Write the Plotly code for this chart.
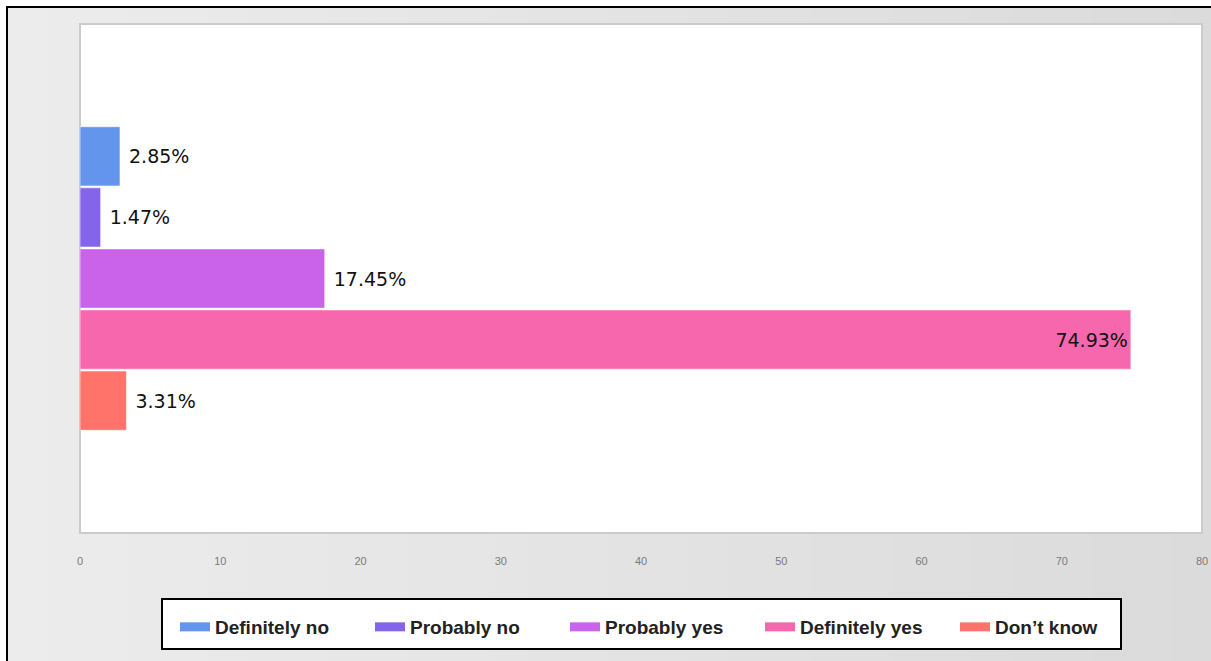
import plotly.graph_objects as go

# ---- data ----
categories = ["Definitely no", "Probably no", "Probably yes", "Definitely yes", "Don\u2019t know"]
values = [2.85, 1.47, 17.45, 74.93, 3.31]
labels = ["2.85%", "1.47%", "17.45%", "74.93%", "3.31%"]
label_pos = ["outside", "outside", "outside", "inside", "outside"]
colors = ["#6495ED", "#8464EA", "#CA63EA", "#F667AE", "#FF736B"]
x_ticks = [0, 10, 20, 30, 40, 50, 60, 70, 80]

W, H = 1211, 661
ML, MR, MT, MB = 80, 9, 24, 128
PW, PH = W - ML - MR, H - MT - MB


def px_x(px):  # page px -> paper
    return (px - ML) / PW


def px_y(py):
    return (H - MB - py) / PH


fig = go.Figure()

for cat, val, lab, pos, col in zip(categories, values, labels, label_pos, colors):
    txt = ("\u00a0" + lab) if pos == "outside" else lab
    fig.add_trace(go.Bar(
        x=[val], y=["Response"], orientation="h", name=cat,
        marker=dict(color=col, line=dict(color="rgba(255,255,255,0.55)", width=1)),
        text=[txt], textposition=pos, insidetextanchor="end",
        textfont=dict(family="DejaVu Sans", size=19, color="#111111"),
        cliponaxis=False, showlegend=False, hoverinfo="skip",
    ))

# legend entries drawn as wide swatches
for cat, col in zip(categories, colors):
    fig.add_trace(go.Scatter(
        x=[None], y=[None], mode="lines", name=cat,
        line=dict(color=col, width=9), showlegend=True, hoverinfo="skip",
    ))

shapes = []
# gradient background inside the frame
n = 30
x0p, x1p = 7, W
for i in range(n):
    a = x0p + (x1p - x0p) * i / n
    b = x0p + (x1p - x0p) * (i + 1) / n + 1
    t = i / (n - 1)
    g = int(round(236 - t * (236 - 219)))
    shapes.append(dict(type="rect", xref="paper", yref="paper",
                       x0=px_x(a), x1=px_x(b), y0=px_y(7), y1=px_y(H),
                       fillcolor=f"rgb({g},{g},{g})", line=dict(width=0), layer="below"))
# white plot area with light border
shapes.append(dict(type="rect", xref="paper", yref="paper", x0=0, x1=1, y0=0, y1=1,
                   fillcolor="white", line=dict(color="#CBCBCB", width=2), layer="below"))
# black frame (top & left)
shapes.append(dict(type="line", xref="paper", yref="paper",
                   x0=px_x(6), x1=px_x(W), y0=px_y(7), y1=px_y(7),
                   line=dict(color="#000000", width=2)))
shapes.append(dict(type="line", xref="paper", yref="paper",
                   x0=px_x(7), x1=px_x(7), y0=px_y(6), y1=px_y(H),
                   line=dict(color="#000000", width=2)))
# legend box
shapes.append(dict(type="rect", xref="paper", yref="paper",
                   x0=px_x(162), x1=px_x(1121), y0=px_y(599), y1=px_y(649),
                   fillcolor="white", line=dict(color="#000000", width=2)))

fig.update_layout(
    width=W, height=H, autosize=False,
    margin=dict(l=ML, r=MR, t=MT, b=MB, pad=0, autoexpand=False),
    paper_bgcolor="white", plot_bgcolor="white",
    barmode="group", bargap=0.4, bargroupgap=0.03,
    shapes=shapes,
    showlegend=True,
    legend=dict(orientation="h", x=px_x(175), xanchor="left", y=px_y(627), yanchor="middle",
                bgcolor="rgba(0,0,0,0)", borderwidth=0,
                font=dict(family="Liberation Sans, Arial", size=19, color="#222222", weight="bold"),
                itemwidth=30, traceorder="normal", entrywidth=150, entrywidthmode="pixels"),
    xaxis=dict(range=[0, 80], tickvals=x_ticks, showgrid=False, zeroline=False,
               showline=False, ticks="", ticklabelstandoff=20, automargin=False,
               tickfont=dict(family="Liberation Sans, Arial", size=11, color="#7A7A7A"),
               fixedrange=True),
    yaxis=dict(type="category", range=[0.5, -0.5], showticklabels=False, showgrid=False,
               zeroline=False, showline=False, ticks="", fixedrange=True, automargin=False),
    hovermode=False,
    font=dict(family="Liberation Sans, Arial"),
)

fig.write_html(
    "out.html",
    config={"responsive": False, "displayModeBar": False},
    post_script="document.body.style.margin='0';document.body.style.overflow='hidden';",
)
